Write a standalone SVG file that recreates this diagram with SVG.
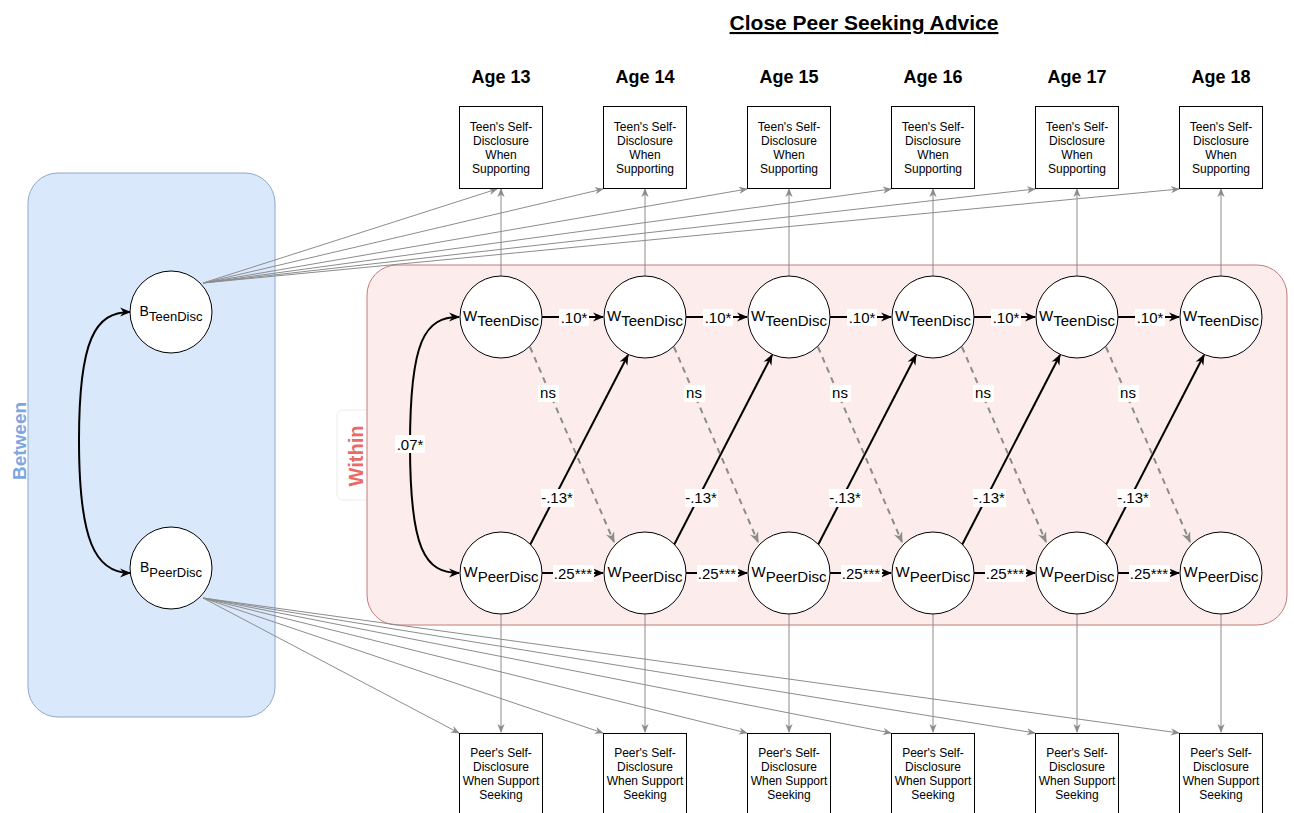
<svg xmlns="http://www.w3.org/2000/svg" width="1294" height="813" viewBox="0 0 1294 813">
<style>
text{font-family:"Liberation Sans",Arial,sans-serif;fill:#000}
.title{font-size:21px;font-weight:bold;text-decoration:underline}
.age{font-size:18px;font-weight:bold}
.box{fill:#fff;stroke:#000;stroke-width:1}
.bt{font-size:12px}
.circ{fill:#fff;stroke:#000;stroke-width:1}
.wt{font-size:15px}
.bn{font-size:14px}
.bs{font-size:13px}
.lab{font-size:15px}
.lbg{fill:#fff}
.g{stroke:#8c8c8c;stroke-width:1;fill:none}
.k{stroke:#000;stroke-width:2;fill:none}
.d{stroke:#8c8c8c;stroke-width:2;fill:none;stroke-dasharray:6 5}
</style>
<defs>
<marker id="mk" viewBox="0 0 10 10" refX="9" refY="5" markerWidth="11" markerHeight="11" orient="auto-start-reverse" markerUnits="userSpaceOnUse"><path d="M0,1 L10,5 L0,9 L3,5 z" fill="#000"/></marker>
<marker id="mg" viewBox="0 0 10 10" refX="9" refY="5" markerWidth="9" markerHeight="9" orient="auto" markerUnits="userSpaceOnUse"><path d="M0,1 L10,5 L0,9 L3,5 z" fill="#8c8c8c"/></marker>
<marker id="md" viewBox="0 0 10 10" refX="9" refY="5" markerWidth="11" markerHeight="11" orient="auto" markerUnits="userSpaceOnUse"><path d="M0,1 L10,5 L0,9 L3,5 z" fill="#8c8c8c"/></marker>
</defs>
<rect width="1294" height="813" fill="#fff"/>

<g id="title"><text class="title" x="864" y="30" text-anchor="middle">Close Peer Seeking Advice</text></g>

<g id="between-panel">
<rect x="28" y="173" width="247" height="544" rx="30" fill="#dae8fc" stroke="#8ea8cf" stroke-width="1"/>
<text x="26" y="441" transform="rotate(-90 26 441)" text-anchor="middle" style="font-size:19px;font-weight:bold;fill:#7ea6e0">Between</text>
</g>

<g id="within-panel">
<rect x="337" y="410" width="40" height="90" rx="6" fill="#fff" stroke="#ececec"/>
<rect x="367" y="265" width="920" height="360" rx="30" fill="#fcedec" stroke="#c47a77" stroke-width="1"/>
<text x="363" y="456" transform="rotate(-90 363 456)" text-anchor="middle" style="font-size:20px;font-weight:bold;fill:#ea6b66">Within</text>
</g>

<g id="ages">
<text class="age" x="501" y="83" text-anchor="middle">Age 13</text>
<text class="age" x="645" y="83" text-anchor="middle">Age 14</text>
<text class="age" x="789" y="83" text-anchor="middle">Age 15</text>
<text class="age" x="933" y="83" text-anchor="middle">Age 16</text>
<text class="age" x="1077" y="83" text-anchor="middle">Age 17</text>
<text class="age" x="1221" y="83" text-anchor="middle">Age 18</text>
</g>

<g id="connectors">
<line class="g" x1="203" y1="283" x2="497" y2="189" marker-end="url(#mg)"/>
<line class="g" x1="203" y1="283" x2="603" y2="189" marker-end="url(#mg)"/>
<line class="g" x1="203" y1="283" x2="747" y2="189" marker-end="url(#mg)"/>
<line class="g" x1="203" y1="283" x2="891" y2="189" marker-end="url(#mg)"/>
<line class="g" x1="203" y1="283" x2="1035" y2="189" marker-end="url(#mg)"/>
<line class="g" x1="203" y1="283" x2="1179" y2="189" marker-end="url(#mg)"/>
<line class="g" x1="203" y1="598" x2="459" y2="733" marker-end="url(#mg)"/>
<line class="g" x1="203" y1="598" x2="603" y2="733" marker-end="url(#mg)"/>
<line class="g" x1="203" y1="598" x2="747" y2="733" marker-end="url(#mg)"/>
<line class="g" x1="203" y1="598" x2="891" y2="733" marker-end="url(#mg)"/>
<line class="g" x1="203" y1="598" x2="1035" y2="733" marker-end="url(#mg)"/>
<line class="g" x1="203" y1="598" x2="1179" y2="733" marker-end="url(#mg)"/>
<line class="g" x1="501" y1="276" x2="501" y2="189" marker-end="url(#mg)"/>
<line class="g" x1="645" y1="276" x2="645" y2="189" marker-end="url(#mg)"/>
<line class="g" x1="789" y1="276" x2="789" y2="189" marker-end="url(#mg)"/>
<line class="g" x1="933" y1="276" x2="933" y2="189" marker-end="url(#mg)"/>
<line class="g" x1="1077" y1="276" x2="1077" y2="189" marker-end="url(#mg)"/>
<line class="g" x1="1221" y1="276" x2="1221" y2="189" marker-end="url(#mg)"/>
<line class="g" x1="501" y1="614" x2="501" y2="732" marker-end="url(#mg)"/>
<line class="g" x1="645" y1="614" x2="645" y2="732" marker-end="url(#mg)"/>
<line class="g" x1="789" y1="614" x2="789" y2="732" marker-end="url(#mg)"/>
<line class="g" x1="933" y1="614" x2="933" y2="732" marker-end="url(#mg)"/>
<line class="g" x1="1077" y1="614" x2="1077" y2="732" marker-end="url(#mg)"/>
<line class="g" x1="1221" y1="614" x2="1221" y2="732" marker-end="url(#mg)"/>
<path class="k" d="M130,312 C95,312 79,340 79,440 C79,540 95,573 130,573" marker-start="url(#mk)" marker-end="url(#mk)"/>
<path class="k" d="M459,317 C425,317 410,340 410,445 C410,550 425,573 459,573" marker-start="url(#mk)" marker-end="url(#mk)"/>
<line class="k" x1="542" y1="317" x2="603" y2="317" marker-end="url(#mk)"/>
<line class="k" x1="686" y1="317" x2="747" y2="317" marker-end="url(#mk)"/>
<line class="k" x1="830" y1="317" x2="891" y2="317" marker-end="url(#mk)"/>
<line class="k" x1="974" y1="317" x2="1035" y2="317" marker-end="url(#mk)"/>
<line class="k" x1="1118" y1="317" x2="1179" y2="317" marker-end="url(#mk)"/>
<line class="k" x1="542" y1="573" x2="603" y2="573" marker-end="url(#mk)"/>
<line class="k" x1="686" y1="573" x2="747" y2="573" marker-end="url(#mk)"/>
<line class="k" x1="830" y1="573" x2="891" y2="573" marker-end="url(#mk)"/>
<line class="k" x1="974" y1="573" x2="1035" y2="573" marker-end="url(#mk)"/>
<line class="k" x1="1118" y1="573" x2="1179" y2="573" marker-end="url(#mk)"/>
<line class="k" x1="530" y1="545" x2="628" y2="355" marker-end="url(#mk)"/>
<line class="k" x1="674" y1="545" x2="772" y2="355" marker-end="url(#mk)"/>
<line class="k" x1="818" y1="545" x2="916" y2="355" marker-end="url(#mk)"/>
<line class="k" x1="962" y1="545" x2="1060" y2="355" marker-end="url(#mk)"/>
<line class="k" x1="1106" y1="545" x2="1204" y2="355" marker-end="url(#mk)"/>
<line class="d" x1="530" y1="347" x2="614" y2="542" marker-end="url(#md)"/>
<line class="d" x1="674" y1="347" x2="758" y2="542" marker-end="url(#md)"/>
<line class="d" x1="818" y1="347" x2="902" y2="542" marker-end="url(#md)"/>
<line class="d" x1="962" y1="347" x2="1046" y2="542" marker-end="url(#md)"/>
<line class="d" x1="1106" y1="347" x2="1190" y2="542" marker-end="url(#md)"/>
</g>

<g id="edge-labels">
<rect class="lbg" x="395" y="435" width="30" height="18"/><text class="lab" x="410" y="450" text-anchor="middle">.07*</text>
<g id="teen-ar-labels">
<rect class="lbg" x="559" y="309" width="30" height="17"/><text class="lab" x="574" y="323" text-anchor="middle">.10*</text>
<rect class="lbg" x="703" y="309" width="30" height="17"/><text class="lab" x="718" y="323" text-anchor="middle">.10*</text>
<rect class="lbg" x="847" y="309" width="30" height="17"/><text class="lab" x="862" y="323" text-anchor="middle">.10*</text>
<rect class="lbg" x="991" y="309" width="30" height="17"/><text class="lab" x="1006" y="323" text-anchor="middle">.10*</text>
<rect class="lbg" x="1135" y="309" width="30" height="17"/><text class="lab" x="1150" y="323" text-anchor="middle">.10*</text>
</g>
<g id="peer-ar-labels">
<rect class="lbg" x="553" y="565" width="41" height="17"/><text class="lab" x="573" y="579" text-anchor="middle">.25***</text>
<rect class="lbg" x="697" y="565" width="41" height="17"/><text class="lab" x="717" y="579" text-anchor="middle">.25***</text>
<rect class="lbg" x="841" y="565" width="41" height="17"/><text class="lab" x="861" y="579" text-anchor="middle">.25***</text>
<rect class="lbg" x="985" y="565" width="41" height="17"/><text class="lab" x="1005" y="579" text-anchor="middle">.25***</text>
<rect class="lbg" x="1129" y="565" width="41" height="17"/><text class="lab" x="1149" y="579" text-anchor="middle">.25***</text>
</g>
<g id="cl-labels">
<rect class="lbg" x="541" y="489" width="33" height="18"/><text class="lab" x="557" y="503" text-anchor="middle">-.13*</text>
<rect class="lbg" x="685" y="489" width="33" height="18"/><text class="lab" x="701" y="503" text-anchor="middle">-.13*</text>
<rect class="lbg" x="829" y="489" width="33" height="18"/><text class="lab" x="845" y="503" text-anchor="middle">-.13*</text>
<rect class="lbg" x="973" y="489" width="33" height="18"/><text class="lab" x="989" y="503" text-anchor="middle">-.13*</text>
<rect class="lbg" x="1117" y="489" width="33" height="18"/><text class="lab" x="1133" y="503" text-anchor="middle">-.13*</text>
</g>
<g id="ns-labels">
<rect class="lbg" x="538" y="385" width="21" height="17"/><text class="lab" x="548" y="398" text-anchor="middle">ns</text>
<rect class="lbg" x="684" y="385" width="21" height="17"/><text class="lab" x="694" y="398" text-anchor="middle">ns</text>
<rect class="lbg" x="830" y="385" width="21" height="17"/><text class="lab" x="840" y="398" text-anchor="middle">ns</text>
<rect class="lbg" x="973" y="385" width="21" height="17"/><text class="lab" x="983" y="398" text-anchor="middle">ns</text>
<rect class="lbg" x="1118" y="385" width="21" height="17"/><text class="lab" x="1128" y="398" text-anchor="middle">ns</text>
</g>
</g>

<g id="node-BTeen"><circle class="circ" cx="171" cy="312" r="41"/><text class="bn" x="171" y="316" text-anchor="middle">B<tspan class="bs" dy="5">TeenDisc</tspan></text></g>
<g id="node-BPeer"><circle class="circ" cx="171" cy="568" r="41"/><text class="bn" x="171" y="572" text-anchor="middle">B<tspan class="bs" dy="5">PeerDisc</tspan></text></g>

<g id="node-WTeen13"><circle class="circ" cx="501" cy="317" r="41"/><text class="wt" x="501" y="321" text-anchor="middle">W<tspan dy="5">TeenDisc</tspan></text></g>
<g id="node-WTeen14"><circle class="circ" cx="645" cy="317" r="41"/><text class="wt" x="645" y="321" text-anchor="middle">W<tspan dy="5">TeenDisc</tspan></text></g>
<g id="node-WTeen15"><circle class="circ" cx="789" cy="317" r="41"/><text class="wt" x="789" y="321" text-anchor="middle">W<tspan dy="5">TeenDisc</tspan></text></g>
<g id="node-WTeen16"><circle class="circ" cx="933" cy="317" r="41"/><text class="wt" x="933" y="321" text-anchor="middle">W<tspan dy="5">TeenDisc</tspan></text></g>
<g id="node-WTeen17"><circle class="circ" cx="1077" cy="317" r="41"/><text class="wt" x="1077" y="321" text-anchor="middle">W<tspan dy="5">TeenDisc</tspan></text></g>
<g id="node-WTeen18"><circle class="circ" cx="1221" cy="317" r="41"/><text class="wt" x="1221" y="321" text-anchor="middle">W<tspan dy="5">TeenDisc</tspan></text></g>

<g id="node-WPeer13"><circle class="circ" cx="501" cy="573" r="41"/><text class="wt" x="501" y="577" text-anchor="middle">W<tspan dy="5">PeerDisc</tspan></text></g>
<g id="node-WPeer14"><circle class="circ" cx="645" cy="573" r="41"/><text class="wt" x="645" y="577" text-anchor="middle">W<tspan dy="5">PeerDisc</tspan></text></g>
<g id="node-WPeer15"><circle class="circ" cx="789" cy="573" r="41"/><text class="wt" x="789" y="577" text-anchor="middle">W<tspan dy="5">PeerDisc</tspan></text></g>
<g id="node-WPeer16"><circle class="circ" cx="933" cy="573" r="41"/><text class="wt" x="933" y="577" text-anchor="middle">W<tspan dy="5">PeerDisc</tspan></text></g>
<g id="node-WPeer17"><circle class="circ" cx="1077" cy="573" r="41"/><text class="wt" x="1077" y="577" text-anchor="middle">W<tspan dy="5">PeerDisc</tspan></text></g>
<g id="node-WPeer18"><circle class="circ" cx="1221" cy="573" r="41"/><text class="wt" x="1221" y="577" text-anchor="middle">W<tspan dy="5">PeerDisc</tspan></text></g>

<g id="box-teen13"><rect class="box" x="459.5" y="106.5" width="83" height="82"/><text class="bt" text-anchor="middle"><tspan x="501" y="131">Teen's Self-</tspan><tspan x="501" y="145">Disclosure</tspan><tspan x="501" y="159">When</tspan><tspan x="501" y="173">Supporting</tspan></text></g>
<g id="box-teen14"><rect class="box" x="603.5" y="106.5" width="83" height="82"/><text class="bt" text-anchor="middle"><tspan x="645" y="131">Teen's Self-</tspan><tspan x="645" y="145">Disclosure</tspan><tspan x="645" y="159">When</tspan><tspan x="645" y="173">Supporting</tspan></text></g>
<g id="box-teen15"><rect class="box" x="747.5" y="106.5" width="83" height="82"/><text class="bt" text-anchor="middle"><tspan x="789" y="131">Teen's Self-</tspan><tspan x="789" y="145">Disclosure</tspan><tspan x="789" y="159">When</tspan><tspan x="789" y="173">Supporting</tspan></text></g>
<g id="box-teen16"><rect class="box" x="891.5" y="106.5" width="83" height="82"/><text class="bt" text-anchor="middle"><tspan x="933" y="131">Teen's Self-</tspan><tspan x="933" y="145">Disclosure</tspan><tspan x="933" y="159">When</tspan><tspan x="933" y="173">Supporting</tspan></text></g>
<g id="box-teen17"><rect class="box" x="1035.5" y="106.5" width="83" height="82"/><text class="bt" text-anchor="middle"><tspan x="1077" y="131">Teen's Self-</tspan><tspan x="1077" y="145">Disclosure</tspan><tspan x="1077" y="159">When</tspan><tspan x="1077" y="173">Supporting</tspan></text></g>
<g id="box-teen18"><rect class="box" x="1179.5" y="106.5" width="83" height="82"/><text class="bt" text-anchor="middle"><tspan x="1221" y="131">Teen's Self-</tspan><tspan x="1221" y="145">Disclosure</tspan><tspan x="1221" y="159">When</tspan><tspan x="1221" y="173">Supporting</tspan></text></g>

<g id="box-peer13"><rect class="box" x="459.5" y="733.5" width="83" height="82"/><text class="bt" text-anchor="middle"><tspan x="501" y="757">Peer's Self-</tspan><tspan x="501" y="771">Disclosure</tspan><tspan x="501" y="785">When Support</tspan><tspan x="501" y="799">Seeking</tspan></text></g>
<g id="box-peer14"><rect class="box" x="603.5" y="733.5" width="83" height="82"/><text class="bt" text-anchor="middle"><tspan x="645" y="757">Peer's Self-</tspan><tspan x="645" y="771">Disclosure</tspan><tspan x="645" y="785">When Support</tspan><tspan x="645" y="799">Seeking</tspan></text></g>
<g id="box-peer15"><rect class="box" x="747.5" y="733.5" width="83" height="82"/><text class="bt" text-anchor="middle"><tspan x="789" y="757">Peer's Self-</tspan><tspan x="789" y="771">Disclosure</tspan><tspan x="789" y="785">When Support</tspan><tspan x="789" y="799">Seeking</tspan></text></g>
<g id="box-peer16"><rect class="box" x="891.5" y="733.5" width="83" height="82"/><text class="bt" text-anchor="middle"><tspan x="933" y="757">Peer's Self-</tspan><tspan x="933" y="771">Disclosure</tspan><tspan x="933" y="785">When Support</tspan><tspan x="933" y="799">Seeking</tspan></text></g>
<g id="box-peer17"><rect class="box" x="1035.5" y="733.5" width="83" height="82"/><text class="bt" text-anchor="middle"><tspan x="1077" y="757">Peer's Self-</tspan><tspan x="1077" y="771">Disclosure</tspan><tspan x="1077" y="785">When Support</tspan><tspan x="1077" y="799">Seeking</tspan></text></g>
<g id="box-peer18"><rect class="box" x="1179.5" y="733.5" width="83" height="82"/><text class="bt" text-anchor="middle"><tspan x="1221" y="757">Peer's Self-</tspan><tspan x="1221" y="771">Disclosure</tspan><tspan x="1221" y="785">When Support</tspan><tspan x="1221" y="799">Seeking</tspan></text></g>
</svg>
